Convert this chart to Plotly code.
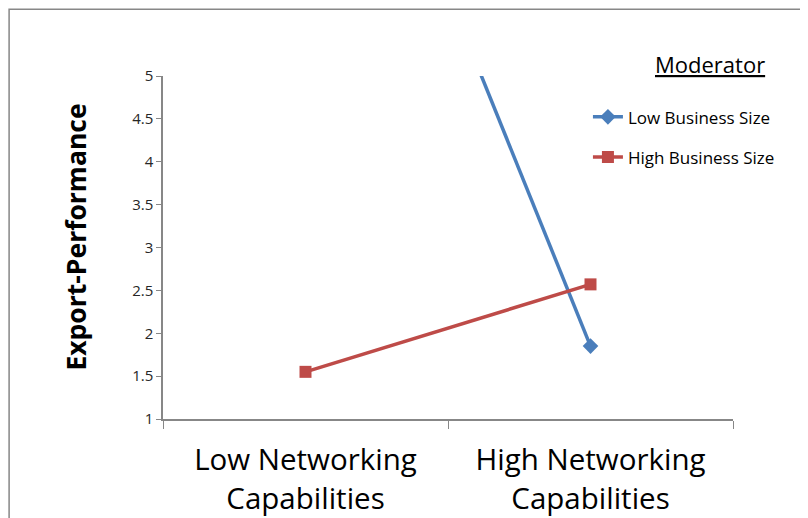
import plotly.graph_objects as go

categories = ["Low Networking<br>Capabilities", "High Networking<br>Capabilities"]
low_business_size = [10.08, 1.85]
high_business_size = [1.55, 2.57]
y_ticks = [1, 1.5, 2, 2.5, 3, 3.5, 4, 4.5, 5]
y_tick_labels = ["1", "1.5", "2", "2.5", "3", "3.5", "4", "4.5", "5"]

font_family = "Open Sans, Liberation Sans, sans-serif"

fig = go.Figure()
fig.add_trace(go.Scatter(
    x=categories, y=low_business_size, name="Low Business Size",
    mode="lines+markers", legendgroup="a",
    line=dict(color="#4A7EBB", width=3.5),
    marker=dict(symbol="diamond", size=12, color="#4A7EBB"),
))
fig.add_trace(go.Scatter(
    x=categories, y=high_business_size, name="High Business Size",
    mode="lines+markers", legendgroup="b",
    line=dict(color="#BE4B48", width=3.5),
    marker=dict(symbol="square", size=12, color="#BE4B48"),
))

fig.update_layout(
    width=808, height=518,
    margin=dict(l=155, r=83, t=68, b=107),
    paper_bgcolor="white", plot_bgcolor="white",
    font=dict(family=font_family, color="#000000"),
    showlegend=True,
    legend=dict(
        x=0.7455, y=0.932, xanchor="left", yanchor="top",
        font=dict(size=17, color="#000000"),
        tracegroupgap=15, bgcolor="rgba(0,0,0,0)",
    ),
    xaxis=dict(
        type="category", range=[-0.5, 1.5], automargin=False,
        showline=True, linecolor="#878787", linewidth=1.5,
        ticks="outside", tickson="boundaries", ticklen=8, tickcolor="#878787",
        tickfont=dict(size=29.5, color="#000000"), ticklabelstandoff=14,
        showgrid=False, zeroline=False, fixedrange=True,
    ),
    yaxis=dict(
        range=[1, 5], tickvals=y_ticks, ticktext=y_tick_labels, automargin=False,
        showline=True, linecolor="#878787", linewidth=1.5,
        ticks="outside", ticklen=5, tickcolor="#878787",
        tickfont=dict(size=15, color="#262626"),
        showgrid=False, zeroline=False,
    ),
    annotations=[
        dict(
            text="<u>Moderator</u>", xref="paper", yref="paper",
            x=0.96, y=1.035, xanchor="center", yanchor="middle",
            showarrow=False, font=dict(size=22, color="#000000"),
        ),
        dict(
            text="<b>Export-Performance</b>", xref="paper", yref="paper",
            x=-0.1526, y=0.529, xanchor="center", yanchor="middle",
            textangle=-90, showarrow=False,
            font=dict(size=26.5, color="#000000"),
        ),
    ],
    shapes=[dict(
        type="rect", xref="paper", yref="paper",
        x0=-0.2700, y0=-0.4, x1=1.3, y1=1.1945,
        line=dict(color="#878787", width=1.5), fillcolor="rgba(0,0,0,0)",
        layer="below",
    )],
)

fig.write_html("out.html")
